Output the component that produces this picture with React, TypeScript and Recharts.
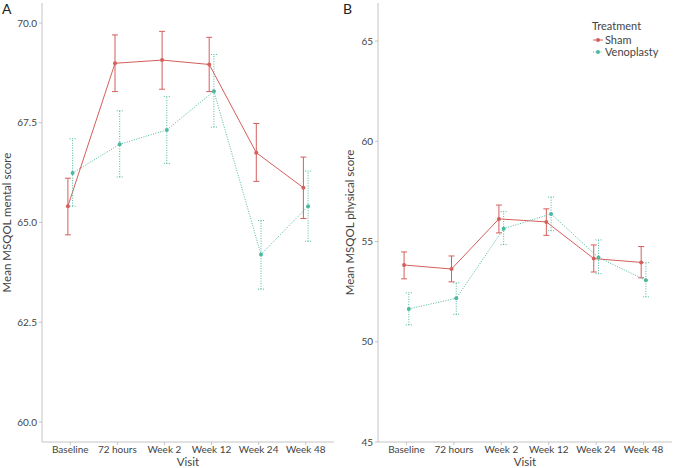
import React from 'react';
import {
  LineChart,
  Line,
  XAxis,
  YAxis,
  ErrorBar,
} from 'recharts';

// visit labels (x axis)
const visits = ['Baseline', '72 hours', 'Week 2', 'Week 12', 'Week 24', 'Week 48'];

// panel A - mental score
const mentalShamMean = [65.41, 68.99, 69.07, 68.96, 66.75, 65.87];
const mentalShamLow = [64.69, 68.28, 68.34, 68.28, 66.03, 65.1];
const mentalShamHigh = [66.11, 69.7, 69.79, 69.64, 67.48, 66.64];
const mentalVenoMean = [66.24, 66.96, 67.32, 68.29, 64.2, 65.41];
const mentalVenoLow = [65.41, 66.14, 66.48, 67.39, 63.33, 64.53];
const mentalVenoHigh = [67.1, 67.8, 68.16, 69.21, 65.05, 66.29];
const mentalTicks = [60, 62.5, 65, 67.5, 70];

// panel B - physical score
const physicalShamMean = [53.83, 53.63, 56.13, 55.98, 54.15, 53.96];
const physicalShamLow = [53.14, 52.99, 55.43, 55.31, 53.48, 53.19];
const physicalShamHigh = [54.48, 54.28, 56.82, 56.63, 54.83, 54.75];
const physicalVenoMean = [51.64, 52.17, 55.64, 56.38, 54.2, 53.07];
const physicalVenoLow = [50.84, 51.37, 54.85, 55.54, 53.4, 52.24];
const physicalVenoHigh = [52.44, 52.94, 56.49, 57.22, 55.08, 53.95];
const physicalTicks = [45, 50, 55, 60, 65];

const SHAM = '#D45F5B';
const VENO = '#4DB89F';
const FONT = 'Lato, "Open Sans", sans-serif';
const AXIS = '#C4C4C4';
const TEXT = '#444';

// position dodge, like ggplot's position_dodge
const DODGE = 0.05;

function buildRows(mean: number[], low: number[], high: number[], shift: number) {
  return mean.map((m, i) => ({
    x: i + 1 + shift,
    y: m,
    err: [m - low[i], high[i] - m],
  }));
}

function LegendBox() {
  return (
    <div style={{ fontFamily: FONT, fontSize: 11, color: TEXT, lineHeight: '12px' }}>
      <div style={{ marginBottom: 2 }}>Treatment</div>
      {[
        { name: 'Sham', color: SHAM, dash: undefined },
        { name: 'Venoplasty', color: VENO, dash: '1 1.5' },
      ].map((it) => (
        <div key={it.name} style={{ display: 'flex', alignItems: 'center' }}>
          <svg width={12} height={10} style={{ marginRight: 1 }}>
            <line x1={1} x2={11} y1={5} y2={5} stroke={it.color} strokeDasharray={it.dash} />
            <circle cx={6} cy={5} r={2} fill={it.color} />
          </svg>
          <span>{it.name}</span>
        </div>
      ))}
    </div>
  );
}

interface PanelProps {
  width: number;
  yWidth: number;
  domain: [number, number];
  ticks: number[];
  fmt: (v: number) => string;
  ylabel: string;
  labelOffset: number;
  sham: any[];
  veno: any[];
}

function Panel(p: PanelProps) {
  const tickStyle = { fill: TEXT, fontSize: 10, fontFamily: FONT };
  return (
    <LineChart width={p.width} height={468} margin={{ top: 3, right: 2, left: 0, bottom: 0 }}>
      <XAxis
        dataKey="x"
        type="number"
        domain={[0.4, 6.6]}
        ticks={[1, 2, 3, 4, 5, 6]}
        interval={0}
        tickFormatter={(v) => visits[v - 1]}
        allowDataOverflow
        height={26}
        stroke={AXIS}
        tickSize={3}
        tick={tickStyle}
        tickMargin={1}
        label={{ value: 'Visit', position: 'insideBottom', offset: 2, fill: TEXT, fontSize: 11.5, fontFamily: FONT }}
      />
      <YAxis
        type="number"
        domain={p.domain}
        ticks={p.ticks}
        interval={0}
        allowDataOverflow
        tickFormatter={p.fmt}
        width={p.yWidth}
        stroke={AXIS}
        tickSize={3}
        tickMargin={2}
        tick={tickStyle}
        label={{
          value: p.ylabel,
          angle: -90,
          position: 'insideLeft',
          offset: p.labelOffset,
          style: { textAnchor: 'middle' },
          fill: TEXT,
          fontSize: 11.5,
          fontFamily: FONT,
        }}
      />
      <Line
        data={p.sham}
        dataKey="y"
        name="Sham"
        stroke={SHAM}
        strokeWidth={1}
        dot={{ r: 2, fill: SHAM, stroke: SHAM, strokeWidth: 0 }}
        activeDot={false}
        isAnimationActive={false}
      >
        <ErrorBar dataKey="err" direction="y" width={3} stroke={SHAM} strokeWidth={1} />
      </Line>
      <Line
        data={p.veno}
        dataKey="y"
        name="Venoplasty"
        stroke={VENO}
        strokeWidth={1}
        strokeDasharray="1 1.5"
        dot={{ r: 2, fill: VENO, stroke: VENO, strokeWidth: 0 }}
        activeDot={false}
        isAnimationActive={false}
      >
        <ErrorBar
          dataKey="err"
          direction="y"
          width={3}
          stroke={VENO}
          strokeWidth={1}
          strokeDasharray="1 1.5"
        />
      </Line>
    </LineChart>
  );
}

export default function App() {
  const mentalSham = buildRows(mentalShamMean, mentalShamLow, mentalShamHigh, -DODGE);
  const mentalVeno = buildRows(mentalVenoMean, mentalVenoLow, mentalVenoHigh, DODGE);
  const physSham = buildRows(physicalShamMean, physicalShamLow, physicalShamHigh, -DODGE);
  const physVeno = buildRows(physicalVenoMean, physicalVenoLow, physicalVenoHigh, DODGE);

  const letter: React.CSSProperties = {
    position: 'absolute',
    top: 0,
    fontFamily: FONT,
    fontSize: 14,
    color: '#222',
  };

  return (
    <div style={{ position: 'absolute', left: 0, top: 0, width: 674, height: 468, background: '#fff' }}>
      <div style={{ position: 'absolute', left: 0, top: 0 }}>
        <Panel
          width={336}
          yWidth={42}
          domain={[59.5, 70.5]}
          ticks={mentalTicks}
          fmt={(v) => v.toFixed(1)}
          ylabel="Mean MSQOL mental score"
          labelOffset={7}
          sham={mentalSham}
          veno={mentalVeno}
        />
      </div>
      <div style={{ position: 'absolute', left: 340, top: 0 }}>
        <Panel
          width={334}
          yWidth={38}
          domain={[45, 66.9]}
          ticks={physicalTicks}
          fmt={(v) => String(v)}
          ylabel="Mean MSQOL physical score"
          labelOffset={10}
          sham={physSham}
          veno={physVeno}
        />
      </div>
      <div style={{ position: 'absolute', left: 592, top: 20 }}>
        <LegendBox />
      </div>
      <div style={{ ...letter, left: 2 }}>A</div>
      <div style={{ ...letter, left: 343 }}>B</div>
    </div>
  );
}
